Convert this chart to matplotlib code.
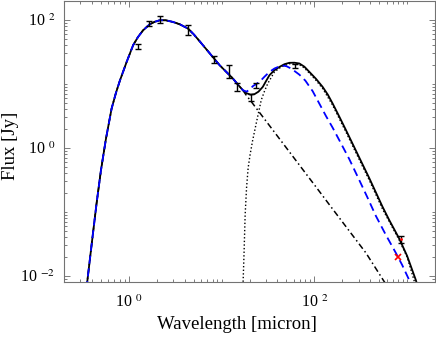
import matplotlib
matplotlib.use('Agg')
import matplotlib.pyplot as plt
from matplotlib.ticker import FixedLocator, FixedFormatter, NullFormatter

plt.rcParams['font.family'] = ['Liberation Serif', 'DejaVu Serif']
plt.rcParams['mathtext.fontset'] = 'stix'

# total model (star + dust), black solid
lam_tot = [0.3364, 0.3560, 0.4001, 0.4494, 0.5000, 0.5658, 0.6516, 0.7246, 0.8002,
           0.9446, 1.112, 1.250, 1.425, 1.682, 1.904, 2.154, 2.500, 2.995, 3.535,
           4.341, 5.000, 5.800, 6.565, 7.430, 8.408, 9.517, 11.32, 13.23, 14.86,
           16.94, 18.57, 20.51, 22.63, 24.99, 27.80, 30.10, 32.82, 37.15, 42.05,
           47.58, 53.86, 60.96, 68.99, 78.07, 88.37, 103.8, 122.8, 139.7, 157.3,
           185.7, 219.2, 256.2, 304.8, 390.3, 542.6, 640.5, 820.4, 1000, 1240, 1313]
f_tot = [0.003915, 0.008032, 0.03380, 0.1372, 0.4408, 1.367, 4.088, 7.135, 11.18,
         21.73, 40.02, 53.33, 68.60, 85.10, 93.07, 98.22, 98.22, 92.41, 85.10,
         72.90, 59.39, 46.19, 37.24, 30.02, 24.20, 19.51, 15.17, 12.10, 9.858,
         7.947, 7.135, 6.761, 6.884, 7.531, 8.946, 10.98, 13.62, 16.30, 18.35,
         20.22, 21.27, 21.34, 20.74, 18.49, 15.33, 12.01, 8.946, 6.761, 4.928,
         3.067, 1.888, 1.184, 0.7034, 0.3367, 0.1201, 0.07447, 0.03833, 0.02044,
         0.00863, 0.00648]

# alternative model (blue dashed); below ~17 micron it follows the total model
lam_alt = [18.57, 20.00, 21.71, 23.50, 25.62, 29.00, 32.82, 37.15, 42.05, 46.42,
           50.00, 56.58, 68.99, 80.03, 95.87, 113.2, 133.6, 157.3, 190.4, 237.8,
           304.8, 371.5, 460.8, 590.2, 755.9, 883.6, 1051, 1104]
f_alt = [7.531, 8.091, 9.175, 9.858, 10.70, 12.90, 15.33, 17.33, 18.69, 19.16,
         18.82, 17.20, 13.87, 11.18, 7.667, 4.893, 3.123, 2.066, 1.227, 0.6665,
         0.3133, 0.1702, 0.0860, 0.04346, 0.02277, 0.01479, 0.00863, 0.00671]

# stellar photosphere beyond ~17 micron (dash-dot)
lam_star = [18.57, 20.51, 23.61, 32.82, 45.62, 68.99, 104.3, 157.3, 237.8, 359.7,
            565.9, 640.5]
f_star = [6.523, 5.449, 4.163, 2.220, 1.184, 0.5371, 0.2437, 0.1106, 0.05017,
          0.02277, 0.00812, 0.00625]

# dust component (dotted)
lam_dust = [16.78, 17.07, 17.46, 17.94, 18.57, 19.32, 20.25, 21.54, 23.61, 26.73,
            29.00, 31.47, 37.15, 43.85, 53.86, 68.99, 78.07, 88.37, 103.8, 122.8,
            157.3, 219.2, 304.8, 390.3, 542.6, 820.4, 1000, 1219]
f_dust = [0.004207, 0.008327, 0.02277, 0.08915, 0.2351, 0.4824, 0.7694, 1.272,
          2.403, 5.548, 7.667, 10.11, 15.33, 18.35, 20.58, 19.86, 17.64, 14.63,
          11.38, 8.448, 4.636, 1.758, 0.6546, 0.3133, 0.1106, 0.0363, 0.01972,
          0.007473]

# photometry with errors
lam_obs = [1.24, 1.66, 2.16, 4.35, 8.3, 12.0, 14.7, 20.9, 23.6, 62.0, 855]
f_obs = [38.6, 87, 102, 70, 24.2, 15.9, 8.95, 6.1, 9.5, 18.8, 0.037]
err_obs = [3.9, 7.8, 13, 12.6, 2.7, 3.5, 1.2, 0.73, 0.95, 1.4, 0.0045]

# model flux at 850 micron (red cross)
lam_mod850 = [807]
f_mod850 = [0.0195]

n_shared = 30  # total-model points up to 16.9 micron, shared by the other curves

fig = plt.figure(figsize=(4.36, 3.38), dpi=100)
ax = fig.add_axes([0.1468, 0.1657, 0.851, 0.8328])

ax.plot(lam_tot, f_tot, '-', color='k', lw=1.3)
ax.plot(lam_tot[:n_shared] + lam_star, f_tot[:n_shared] + f_star, color='k', lw=1.1,
        linestyle=(0, (4, 2, 1, 2)))
ax.plot(lam_dust, f_dust, color='k', lw=1.0, linestyle=(0, (1, 1.6)))
ax.plot(lam_tot[:n_shared] + lam_alt, f_tot[:n_shared] + f_alt, color='#0000ff', lw=1.3,
        linestyle=(0, (4.5, 2.6)))
ax.errorbar(lam_obs, f_obs, yerr=err_obs, fmt='none', ecolor='k', elinewidth=1.0,
            capsize=2.4, capthick=1.0)
ax.plot(lam_obs[-1:], f_obs[-1:], '.', color='red', ms=2)
ax.plot(lam_mod850, f_mod850, 'x', color='red', ms=5, mew=1.2)

ax.set_xscale('log')
ax.set_yscale('log')
ax.set_xlim(0.2, 2000)
ax.set_ylim(0.008, 200)

xmaj = [1, 100]
ymaj = [0.01, 1, 100]
xminor = [m * 10.0 ** e for e in range(-1, 4) for m in range(1, 10)]
yminor = [m * 10.0 ** e for e in range(-3, 3) for m in range(1, 10)]
ax.xaxis.set_major_locator(FixedLocator(xmaj))
ax.xaxis.set_major_formatter(FixedFormatter([r'10 $^{0}$', r'10 $^{2}$']))
ax.xaxis.set_minor_locator(FixedLocator(xminor))
ax.xaxis.set_minor_formatter(NullFormatter())
ax.yaxis.set_major_locator(FixedLocator(ymaj))
ax.yaxis.set_major_formatter(FixedFormatter([r'10 $^{-2}$', r'10 $^{0}$', r'10 $^{2}$']))
ax.yaxis.set_minor_locator(FixedLocator(yminor))
ax.yaxis.set_minor_formatter(NullFormatter())

ax.tick_params(which='both', direction='in', top=True, right=True, color='0.4', width=0.6)
ax.tick_params(which='major', length=4, labelsize=11.5)
ax.tick_params(which='minor', length=2.2)
ax.tick_params(axis='x', which='major', pad=9)
ax.tick_params(axis='y', which='major', pad=6)
for s in ax.spines.values():
    s.set_color('0.45')
    s.set_linewidth(0.8)

ax.set_xlabel('Wavelength [micron]', fontsize=13.5)
ax.set_ylabel('Flux [Jy]', fontsize=13.5)
ax.xaxis.set_label_coords(0.465, -0.12)
ax.yaxis.set_label_coords(-0.121, 0.484)

fig.savefig('out.png', dpi=100)
